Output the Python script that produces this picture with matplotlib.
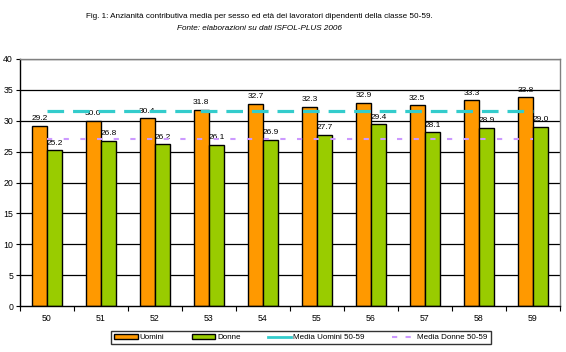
"""
Anzianita' contributiva media per sesso ed eta' (classe 50-59).
"""

import matplotlib

matplotlib.use("Agg")
import matplotlib.pyplot as plt
from matplotlib.lines import Line2D
from matplotlib.patches import Patch

plt.rcParams["font.family"] = ["Liberation Sans", "DejaVu Sans"]

# data
eta = ["50", "51", "52", "53", "54", "55", "56", "57", "58", "59"]
uomini = [29.2, 30.0, 30.4, 31.8, 32.7, 32.3, 32.9, 32.5, 33.3, 33.8]
donne = [25.2, 26.8, 26.2, 26.1, 26.9, 27.7, 29.4, 28.1, 28.9, 29.0]
media_uomini = 31.6
media_donne = 27.1

col_uomini = "#FF9900"
col_donne = "#99CC00"
col_media_u = "#33CCCC"
col_media_d = "#CC99FF"

fig = plt.figure(figsize=(5.66, 3.52), dpi=100)
fig.patch.set_facecolor("white")
ax = fig.add_axes([20 / 566, 1 - 306 / 352, 540 / 566, 247 / 352])

x = list(range(len(eta)))
w = 0.285
xu = [i - w / 2 for i in x]
xd = [i + w / 2 for i in x]

# grid behind everything
for v in range(5, 41, 5):
    ax.axhline(v, color="black", lw=0.9, zorder=0)

ax.bar(xu, uomini, width=w, color=col_uomini, edgecolor="black", lw=1.0, zorder=2)
ax.bar(xd, donne, width=w, color=col_donne, edgecolor="black", lw=1.0, zorder=2)

# data labels
for xi, v in zip(xu, uomini):
    ax.text(xi, v + 0.6, "%.1f" % v, ha="center", va="bottom", fontsize=6, zorder=3)
for xi, v in zip(xd, donne):
    ax.text(xi, v + 0.6, "%.1f" % v, ha="center", va="bottom", fontsize=6, zorder=3)

# mean lines
ax.plot(x, [media_uomini] * len(x), color=col_media_u, lw=2.3,
        dashes=(5.2, 2.8), zorder=4)
ax.plot(x, [media_donne] * len(x), color=col_media_d, lw=1.5,
        dashes=(2.5, 5.5), zorder=4)

ax.set_xlim(-0.5, len(eta) - 0.5)
ax.set_ylim(0, 40)
ax.set_yticks(range(0, 41, 5))
ax.tick_params(axis="y", labelsize=6.3, length=3, width=0.8, pad=2)

# ticks at category boundaries, labels at centres
ax.set_xticks([i - 0.5 for i in range(len(eta) + 1)])
ax.set_xticklabels([])
ax.tick_params(axis="x", which="major", length=3.5, width=0.8)
ax.set_xticks(x, minor=True)
ax.set_xticklabels(eta, minor=True, fontsize=6.3)
ax.tick_params(axis="x", which="minor", length=0, pad=6)

for s in ["top", "right"]:
    ax.spines[s].set_color("#808080")
    ax.spines[s].set_linewidth(1.0)
for s in ["left", "bottom"]:
    ax.spines[s].set_color("black")
    ax.spines[s].set_linewidth(1.0)

# title
fig.text(259 / 566, 1 - 16 / 352,
         "Fig. 1: Anzianità contributiva media per sesso ed età dei lavoratori dipendenti della classe 50-59.",
         ha="center", va="center", fontsize=5.9)
fig.text(259 / 566, 1 - 29 / 352, "Fonte: elaborazioni su dati ISFOL-PLUS 2006",
         ha="center", va="center", fontsize=5.9, style="italic")

handles = [
    Patch(facecolor=col_uomini, edgecolor="black", lw=1.0),
    Patch(facecolor=col_donne, edgecolor="black", lw=1.0),
    Line2D([], [], color=col_media_u, lw=2.0),
    Line2D([], [], color=col_media_d, lw=1.5, dashes=(2.5, 4)),
]
labels = ["Uomini", "Donne", "Media Uomini 50-59", "Media Donne 50-59"]
leg = fig.legend(handles, labels, loc="center", ncol=4,
                 bbox_to_anchor=(301 / 566, 1 - 337.5 / 352), fontsize=5.8,
                 frameon=True, fancybox=False, borderpad=0.4,
                 handlelength=2.9, handleheight=0.55, columnspacing=3.4,
                 handletextpad=0.25)
leg.get_frame().set_edgecolor("black")
leg.get_frame().set_linewidth(1.0)

fig.savefig("out.png", dpi=100, facecolor="white")
